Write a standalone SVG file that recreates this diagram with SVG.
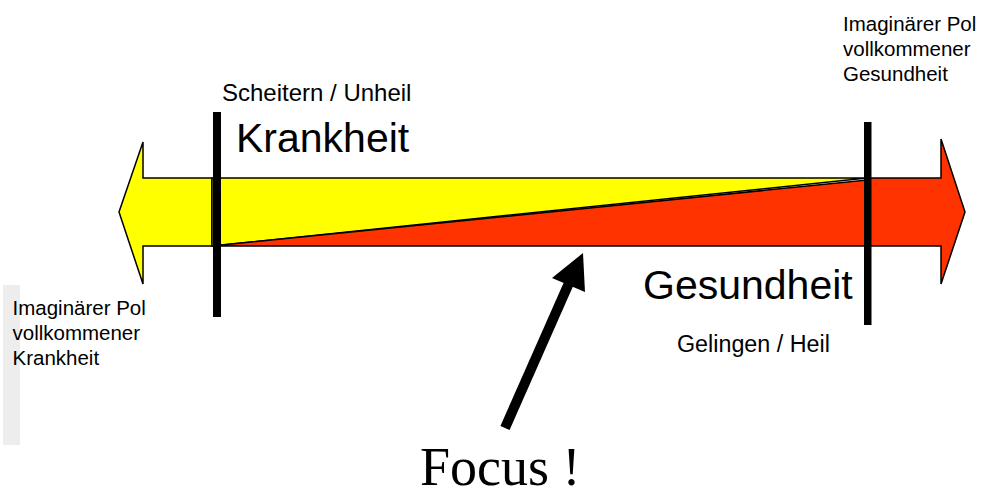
<svg xmlns="http://www.w3.org/2000/svg" width="987" height="491" viewBox="0 0 987 491">
<style>
  .sm { font-family: "Liberation Sans", Arial, sans-serif; fill: #000; }
  .big { font-family: "Liberation Sans", Arial, sans-serif; font-size: 41px; fill: #000; }
  .shape { stroke: #000; stroke-width: 1.5; stroke-linejoin: miter; }
  .yellow { fill: #FFFF00; }
  .red { fill: #FF3300; }
  .bar { fill: #000; }
</style>
<rect width="987" height="491" fill="#fff"/>
<rect x="3" y="285" width="17" height="160" fill="#d8d8d8" opacity="0.45"/>
<g id="band">
  <polygon class="shape yellow" points="212,178 143,178 143,142 119,212 143,284 143,246 212,246"/>
  <polygon class="shape yellow" points="212,178 867,178 212,246"/>
  <polygon class="shape red" points="212,246 867,180 867,246"/>
  <polygon class="shape red" points="867,178 941,178 941,139 965,212 941,284 941,246 867,246"/>
</g>
<g id="pole-left">
  <rect class="bar" x="213" y="112" width="8" height="205"/>
</g>
<g id="pole-right">
  <rect class="bar" x="864" y="122" width="7.5" height="203"/>
</g>
<g id="connectors">
  <line x1="505" y1="428" x2="569" y2="283" stroke="#000" stroke-width="10"/>
  <polygon points="583,253 552,278 585,292" fill="#000"/>
</g>
<g id="label-scheitern">
  <text class="sm" x="222" y="101" font-size="24">Scheitern / Unheil</text>
</g>
<g id="label-krankheit">
  <text class="big" x="236" y="152">Krankheit</text>
</g>
<g id="label-gesundheit">
  <text class="big" x="643" y="299">Gesundheit</text>
</g>
<g id="label-gelingen">
  <text class="sm" x="677" y="352" font-size="23.3">Gelingen / Heil</text>
</g>
<g id="label-pol-gesundheit">
  <text class="sm" x="843" y="31" font-size="20.5">Imaginärer Pol</text>
  <text class="sm" x="843" y="56" font-size="20.5">vollkommener</text>
  <text class="sm" x="843" y="81" font-size="20.5">Gesundheit</text>
</g>
<g id="label-pol-krankheit">
  <text class="sm" x="12.5" y="315" font-size="20.5">Imaginärer Pol</text>
  <text class="sm" x="12.5" y="340" font-size="20.5">vollkommener</text>
  <text class="sm" x="12.5" y="365" font-size="20.5">Krankheit</text>
</g>
<g id="label-focus">
  <text x="420" y="485" font-family="'Liberation Serif', 'Times New Roman', serif" font-size="54" fill="#000">Focus !</text>
</g>
</svg>
